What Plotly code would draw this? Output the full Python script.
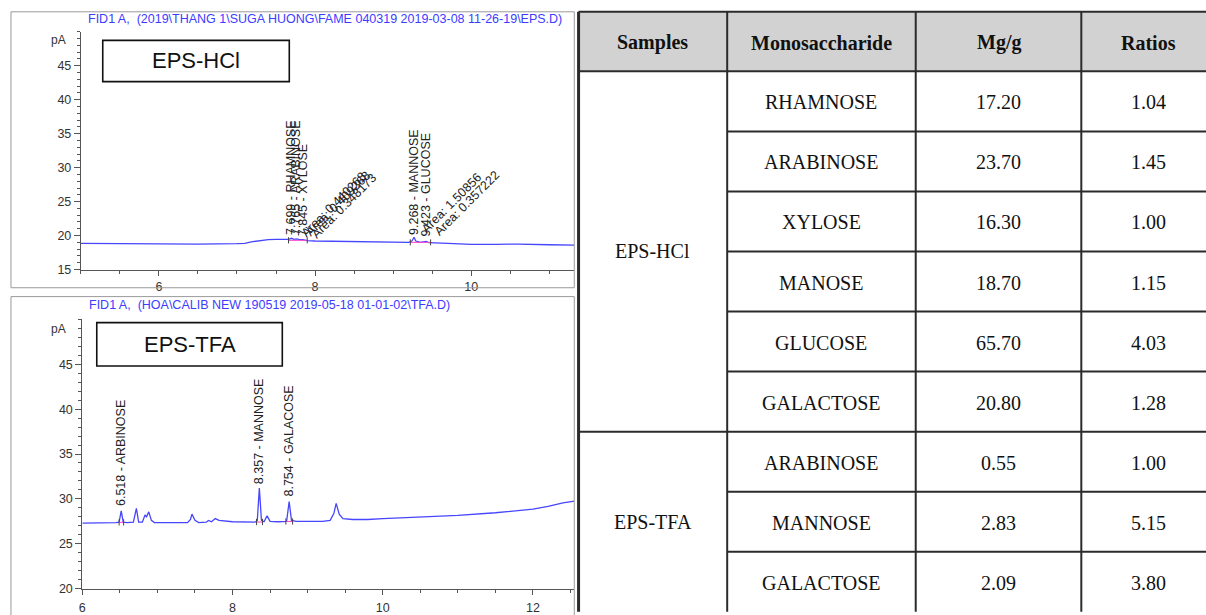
import plotly.graph_objects as go

W, H = 1206, 615

# ---------------- data ----------------
# EPS-HCl chromatogram (retention time [min], signal [pA])
hcl_time = [5.0, 5.5, 6.0, 6.5, 7.0, 7.1, 7.2, 7.3, 7.4, 7.5, 7.6, 7.66, 7.699, 7.73, 7.765,
            7.8, 7.845, 7.9, 8.0, 8.5, 9.0, 9.2, 9.24, 9.268, 9.29, 9.35, 9.423, 9.46, 9.7,
            10.0, 10.3, 10.6, 11.0, 11.32]
hcl_signal = [18.85, 18.8, 18.75, 18.75, 18.8, 18.85, 19.1, 19.3, 19.4, 19.45, 19.45, 19.45, 19.6,
              19.45, 19.5, 19.4, 19.4, 19.25, 19.2, 19.15, 19.05, 19.0, 19.2, 19.75, 19.2, 19.0,
              19.15, 18.95, 18.85, 18.7, 18.7, 18.75, 18.65, 18.6]

# EPS-TFA chromatogram
tfa_time = [6.0, 6.3, 6.45, 6.49, 6.518, 6.545, 6.6, 6.68, 6.72, 6.75, 6.8, 6.835, 6.855, 6.885,
            6.92, 6.96, 7.2, 7.4, 7.44, 7.46, 7.5, 7.55, 7.65, 7.68, 7.72, 7.77, 7.82, 7.9, 8.0,
            8.3, 8.33, 8.357, 8.385, 8.42, 8.46, 8.5, 8.6, 8.72, 8.754, 8.785, 8.85, 9.2, 9.3,
            9.35, 9.38, 9.42, 9.47, 9.6, 9.8, 10.0, 10.5, 11.0, 11.5, 11.8, 12.0, 12.2, 12.4, 12.55]
tfa_signal = [27.3, 27.3, 27.35, 27.4, 28.65, 27.4, 27.35, 27.4, 28.95, 27.4, 27.4, 28.2, 28.0, 28.55,
              27.6, 27.35, 27.35, 27.35, 27.7, 28.3, 27.6, 27.35, 27.4, 27.6, 27.45, 27.8, 27.6, 27.5,
              27.45, 27.4, 27.6, 31.2, 27.6, 27.45, 28.1, 27.5, 27.45, 27.5, 29.7, 27.6, 27.5, 27.5,
              27.6, 28.4, 29.5, 28.3, 27.8, 27.7, 27.7, 27.8, 27.95, 28.15, 28.45, 28.65, 28.85,
              29.15, 29.55, 29.75]

# peak labels
hcl_peak_rt = [7.699, 7.765, 7.845, 9.268, 9.423]
hcl_peak_name = ["RHAMNOSE", "ARABINOSE", "XYLOSE", "MANNOSE", "GLUCOSE"]
hcl_area_rt = [7.76, 7.80, 7.88, 9.29, 9.46]
hcl_area = ["0.440268", "0.409268", "0.348173", "1.50856", "0.357222"]

tfa_peak_rt = [6.518, 8.357, 8.754]
tfa_peak_name = ["ARBINOSE", "MANNOSE", "GALACOSE"]

# integration windows (start, end, baseline level)
hcl_windows = [(7.66, 7.9, 19.3), (9.22, 9.48, 19.0)]
tfa_windows = [(6.49, 6.55, 27.38), (8.32, 8.40, 27.42), (8.71, 8.80, 27.48)]

# table
samples = ["EPS-HCl", "EPS-TFA"]
sample_sizes = [6, 3]
monosaccharides = ["RHAMNOSE", "ARABINOSE", "XYLOSE", "MANOSE", "GLUCOSE", "GALACTOSE",
                   "ARABINOSE", "MANNOSE", "GALACTOSE"]
mg_per_g = [17.20, 23.70, 16.30, 18.70, 65.70, 20.80, 0.55, 2.83, 2.09]
ratios = [1.04, 1.45, 1.00, 1.15, 4.03, 1.28, 1.00, 5.15, 3.80]
headers = ["Samples", "Monosaccharide", "Mg/g", "Ratios"]

# ---------------- helpers ----------------
def px(x):
    return x / W

def py(y):
    return 1 - y / H

SANS = "Liberation Sans"
SERIF = "Liberation Serif"
BLUE = "#3c3cff"
AX = "#555555"

fig = go.Figure()

fig.add_trace(go.Scatter(x=hcl_time, y=hcl_signal, mode="lines",
                         line=dict(color="#4646ff", width=1.3), xaxis="x", yaxis="y",
                         hoverinfo="skip"))
fig.add_trace(go.Scatter(x=tfa_time, y=tfa_signal, mode="lines",
                         line=dict(color="#4646ff", width=1.3), xaxis="x2", yaxis="y2",
                         hoverinfo="skip"))

# pink integration baselines + small dark boundary ticks
for wins, xa, ya, tick in [(hcl_windows, "x", "y", 0.45), (tfa_windows, "x2", "y2", 0.35)]:
    for (a, b, v) in wins:
        fig.add_trace(go.Scatter(x=[a, b], y=[v, v], mode="lines",
                                 line=dict(color="#ff3fcf", width=1), xaxis=xa, yaxis=ya,
                                 hoverinfo="skip"))
        fig.add_trace(go.Scatter(x=[a, a, None, b, b], y=[v - tick, v + tick, None, v - tick, v + tick],
                                 mode="lines", line=dict(color="#444444", width=1),
                                 xaxis=xa, yaxis=ya, hoverinfo="skip"))

annotations = []
shapes = []

# ---- peak labels top ----
label_bottom_hcl = [19.8, 19.8, 19.6, 19.8, 19.6]
for rt, name, yb in zip(hcl_peak_rt, hcl_peak_name, label_bottom_hcl):
    annotations.append(dict(x=rt, y=yb, xref="x", yref="y", text=f"{rt:.3f} - {name}",
                            textangle=-90, showarrow=False, xanchor="center", yanchor="bottom",
                            font=dict(family=SANS, size=12.5, color="#222222")))
area_bottom_hcl = [19.0, 19.1, 18.8, 19.6, 19.2]
for rt, ar, yb in zip(hcl_area_rt, hcl_area, area_bottom_hcl):
    annotations.append(dict(x=rt, y=yb, xref="x", yref="y", text=f"Area: {ar}",
                            textangle=-45, showarrow=False, xanchor="left", yanchor="bottom",
                            font=dict(family=SANS, size=12.5, color="#222222")))

# ---- peak labels bottom ----
label_bottom_tfa = [29.0, 31.45, 30.0]
for rt, name, yb in zip(tfa_peak_rt, tfa_peak_name, label_bottom_tfa):
    annotations.append(dict(x=rt, y=yb, xref="x2", yref="y2", text=f"{rt:.3f} - {name}",
                            textangle=-90, showarrow=False, xanchor="center", yanchor="bottom",
                            font=dict(family=SANS, size=12.5, color="#222222")))

# ---- file titles ----
annotations.append(dict(x=px(83), y=py(19), xref="paper", yref="paper",
                        text="FID1 A,  (2019\\THANG 1\\SUGA HUONG\\FAME 040319 2019-03-08 11-26-19\\EPS.D)",
                        showarrow=False, xanchor="left", yanchor="middle",
                        font=dict(family=SANS, size=12.5, color=BLUE)))
annotations.append(dict(x=px(84), y=py(310), xref="paper", yref="paper",
                        text="FID1 A,  (HOA\\CALIB NEW 190519 2019-05-18 01-01-02\\TFA.D)",
                        showarrow=False, xanchor="left", yanchor="middle",
                        font=dict(family=SANS, size=12.5, color=BLUE)))
# pA units
for yy in (41, 334):
    annotations.append(dict(x=px(56), y=py(yy), xref="paper", yref="paper", text="pA",
                            showarrow=False, xanchor="center", yanchor="middle",
                            font=dict(family=SANS, size=12, color="#333333")))

# ---- sample boxes ----
for (x0, y0, x1, y1, t) in [(100, 41, 287, 83, "EPS-HCl"), (94, 328, 280, 372, "EPS-TFA")]:
    shapes.append(dict(type="rect", xref="paper", yref="paper", x0=px(x0), x1=px(x1),
                       y0=py(y1), y1=py(y0), line=dict(color="#111111", width=1.6)))
    annotations.append(dict(x=px((x0 + x1) / 2), y=py((y0 + y1) / 2), xref="paper", yref="paper",
                            text=t, showarrow=False, xanchor="center", yanchor="middle",
                            font=dict(family=SANS, size=22, color="#111111")))

# ---- panel frames ----
for (x0, y0, x1, y1) in [(8, 12, 572.7, 292.5), (8, 301.5, 572.7, 640)]:
    shapes.append(dict(type="rect", xref="paper", yref="paper", x0=px(x0), x1=px(x1),
                       y0=py(y1), y1=py(y0), line=dict(color="#9a9a9a", width=1)))

# ---- table ----
col_edges = [577, 726, 915, 1081, 1216]
tbl_top, hdr_bot, row_h = 12, 72.5, 61.05
n_rows = len(monosaccharides)
tbl_bot = hdr_bot + row_h * n_rows
LC = "#2b2b2b"
shapes.append(dict(type="rect", xref="paper", yref="paper", x0=px(col_edges[0]), x1=px(col_edges[-1]),
                   y0=py(hdr_bot), y1=py(tbl_top), fillcolor="#d2d2d2", line=dict(width=0),
                   layer="below"))
for i, xe in enumerate(col_edges):
    shapes.append(dict(type="line", xref="paper", yref="paper", x0=px(xe), x1=px(xe),
                       y0=py(tbl_bot), y1=py(tbl_top),
                       line=dict(color=LC, width=3 if i == 0 else 2)))
for ye in (tbl_top, hdr_bot):
    shapes.append(dict(type="line", xref="paper", yref="paper", x0=px(col_edges[0]), x1=px(col_edges[-1]),
                       y0=py(ye), y1=py(ye), line=dict(color=LC, width=2)))
# row lines
group_ends = []
acc = 0
for s in sample_sizes:
    acc += s
    group_ends.append(acc)
for r in range(1, n_rows):
    ye = hdr_bot + r * row_h
    x0 = col_edges[0] if r in group_ends else col_edges[1]
    shapes.append(dict(type="line", xref="paper", yref="paper", x0=px(x0), x1=px(col_edges[-1]),
                       y0=py(ye), y1=py(ye), line=dict(color=LC, width=2)))

hdr_centers = [(col_edges[i] + col_edges[i + 1]) / 2 for i in range(4)]
hdr_centers[3] = 1148
for xc, t in zip(hdr_centers, headers):
    annotations.append(dict(x=px(xc), y=py((tbl_top + hdr_bot) / 2 + 1), xref="paper", yref="paper",
                            text=f"<b>{t}</b>", showarrow=False, xanchor="center", yanchor="middle",
                            font=dict(family=SERIF, size=20, color="#111111")))
start = 0
for s, n in zip(samples, sample_sizes):
    yc = hdr_bot + (start + n / 2) * row_h
    annotations.append(dict(x=px(hdr_centers[0]), y=py(yc), xref="paper", yref="paper", text=s,
                            showarrow=False, xanchor="center", yanchor="middle",
                            font=dict(family=SERIF, size=20, color="#111111")))
    start += n
for r in range(n_rows):
    yc = hdr_bot + (r + 0.5) * row_h + 1
    for xc, t in zip(hdr_centers[1:], [monosaccharides[r], f"{mg_per_g[r]:.2f}", f"{ratios[r]:.2f}"]):
        annotations.append(dict(x=px(xc), y=py(yc), xref="paper", yref="paper", text=t,
                                showarrow=False, xanchor="center", yanchor="middle",
                                font=dict(family=SERIF, size=20, color="#111111")))

# ---------------- axes ----------------
tickfont = dict(family=SANS, size=12.5, color="#333333")
common_x = dict(showline=True, linecolor=AX, linewidth=1, showgrid=False, zeroline=False,
                ticks="outside", ticklen=5, tickcolor=AX, tickfont=tickfont, dtick=2,
                minor=dict(dtick=0.5, ticklen=3, tickcolor=AX, ticks="outside", showgrid=False))
common_y = dict(showline=True, linecolor=AX, linewidth=1, showgrid=False, zeroline=False,
                ticks="outside", ticklen=6, tickcolor=AX, tickfont=tickfont,
                minor=dict(tickmode="linear", tick0=0, dtick=1, ticklen=3, tickcolor=AX,
                           ticks="outside", showgrid=False))

fig.update_layout(
    width=W, height=H, margin=dict(l=0, r=0, t=0, b=0, pad=0),
    paper_bgcolor="white", plot_bgcolor="white", showlegend=False,
    xaxis=dict(domain=[px(78), px(572.7)], range=[5, 11.32], anchor="y", tick0=0, **common_x),
    yaxis=dict(domain=[py(274), py(32.3)], range=[15, 50], anchor="x",
               tickmode="array", tickvals=[15, 20, 25, 30, 35, 40, 45], **common_y),
    xaxis2=dict(domain=[px(79.5), px(572.7)], range=[6, 12.55], anchor="y2", tick0=0,
                ticklabelstandoff=2, **common_x),
    yaxis2=dict(domain=[py(598.3), py(324.7)], range=[20, 50], anchor="x2",
                tickmode="array", tickvals=[20, 25, 30, 35, 40, 45], **common_y),
    annotations=annotations, shapes=shapes,
)

post = ("document.documentElement.style.overflow='hidden';"
        "document.body.style.margin='0';document.body.style.padding='0';"
        "document.body.style.overflow='hidden';")

fig.write_html("out.html", config={"displayModeBar": False}, post_script=post)
